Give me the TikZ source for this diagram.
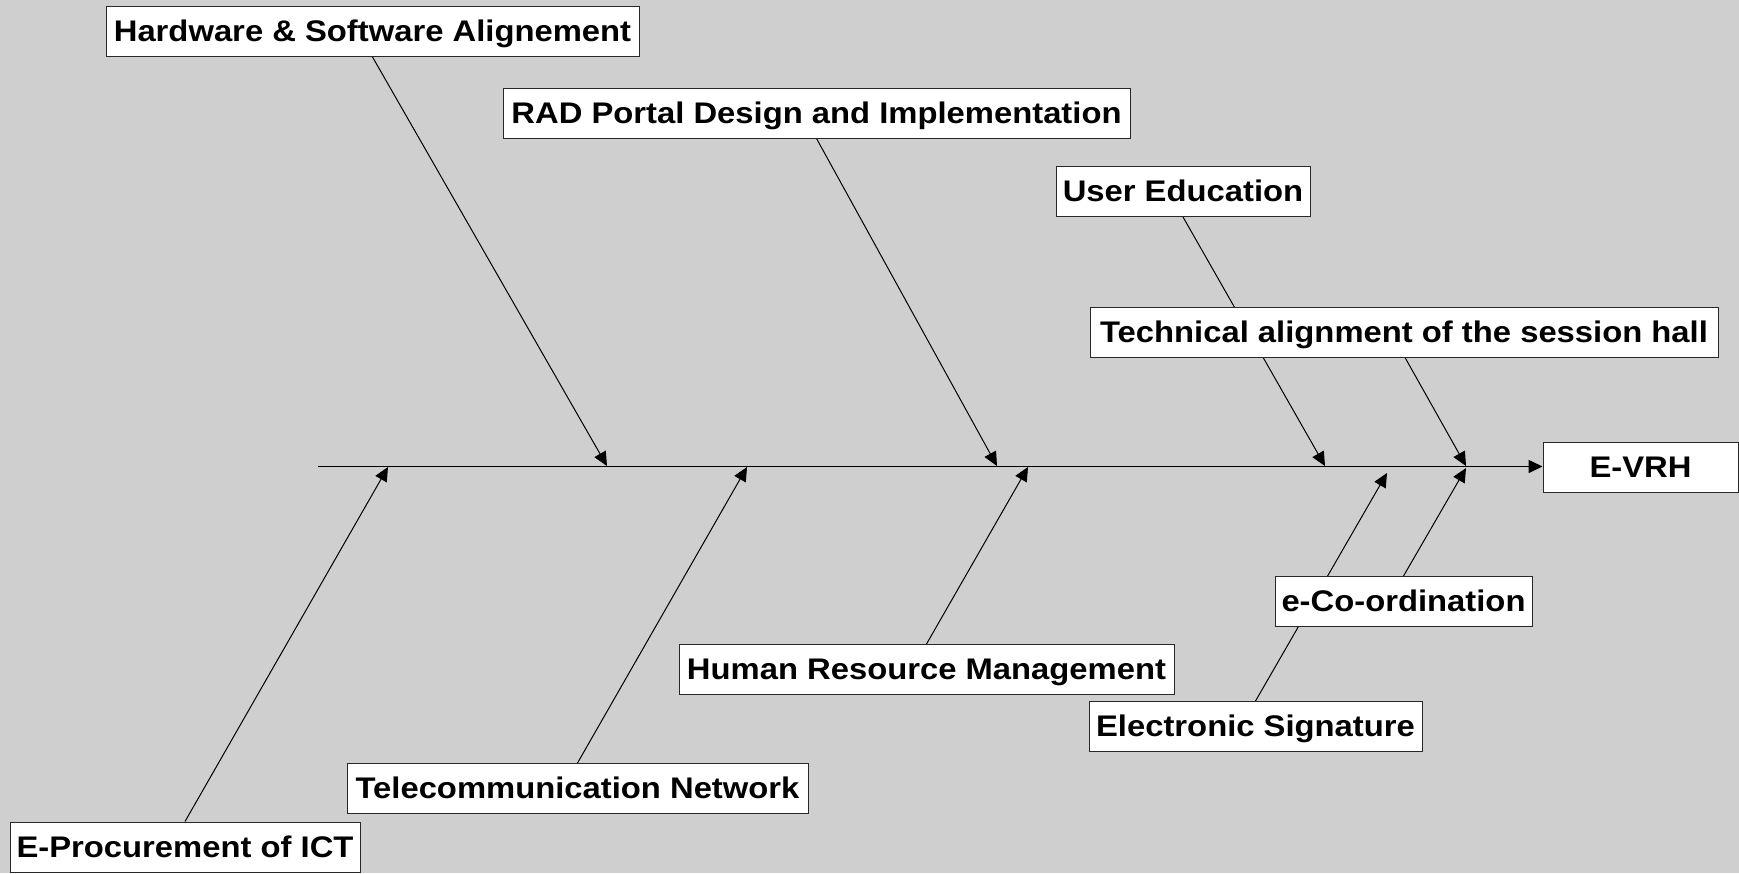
\documentclass[tikz,border=0pt]{standalone}
\usepackage{fontspec}
\setmainfont[FakeStretch=1.1]{Liberation Sans}
\usetikzlibrary{arrows.meta}
\definecolor{bggray}{RGB}{207,207,207}
\definecolor{boxline}{RGB}{40,40,40}
\pgfdeclarelayer{bg}
\pgfdeclarelayer{lines}
\pgfsetlayers{bg,lines,main}
\tikzset{
  cbox/.style={draw=boxline, line width=1pt, fill=white, inner sep=0pt,
    minimum height=50pt, text height=24.5pt, text depth=4pt,
    font=\fontsize{29.8pt}{32pt}\selectfont\bfseries},
  bone/.style={draw=black, line width=1pt, -{Triangle[length=14pt,width=13pt]}},
  spine/.style={draw=black, line width=1.5pt, -{Triangle[length=14pt,width=13pt]}}
}
\begin{document}
\begin{tikzpicture}[x=1pt,y=-1pt]
\begin{pgfonlayer}{bg}
\fill[bggray] (0,0) rectangle (1739,873);
\end{pgfonlayer}
\useasboundingbox (0,0) rectangle (1739,873);

\node[cbox, minimum width=533pt] (hw)   at (372.5,31.5) {Hardware \& Software Alignement};
\node[cbox, minimum width=627pt] (rad)  at (816.5,113)  {RAD Portal Design and Implementation};
\node[cbox, minimum width=254pt] (ue)   at (1183,191.5) {User Education};
\node[cbox, minimum width=628pt] (tech) at (1404,332)   {Technical alignment of the session hall};
\node[cbox, minimum width=195pt] (evrh) at (1640.5,467) {E-VRH};
\node[cbox, minimum width=257pt] (eco)  at (1403.5,601.5) {e-Co-ordination};
\node[cbox, minimum width=333pt] (esig) at (1255.5,726.5) {Electronic Signature};
\node[cbox, minimum width=495pt] (hr)   at (926.5,669.5) {Human Resource Management};
\node[cbox, minimum width=461pt] (tel)  at (577.5,788.5) {Telecommunication Network};
\node[cbox, minimum width=350pt] (ep)   at (185,847)    {E-Procurement of ICT};

\coordinate (s0) at (318,466.5);
\coordinate (thw) at (607,466);
\coordinate (trad) at (997,466);
\coordinate (tue) at (1325,466);
\coordinate (ttech) at (1466,466);
\coordinate (teco) at (1466,468);
\coordinate (tesig) at (1387,473);
\coordinate (thr) at (1028,467);
\coordinate (ttel) at (747,467);
\coordinate (tep) at (388,467);

\begin{pgfonlayer}{lines}
\draw[spine] (s0) -- (s0 -| evrh.west);
\draw[bone] (hw.south) -- (thw);
\draw[bone] (rad.south) -- (trad);
\draw[bone] (ue.south) -- (tue);
\draw[bone] (tech.south -| 1405,0) -- (ttech);
\draw[bone] (eco.north) -- (teco);
\draw[bone] (esig.north) -- (tesig);
\draw[bone] (hr.north) -- (thr);
\draw[bone] (tel.north) -- (ttel);
\draw[bone] (ep.north) -- (tep);
\end{pgfonlayer}
\end{tikzpicture}
\end{document}
